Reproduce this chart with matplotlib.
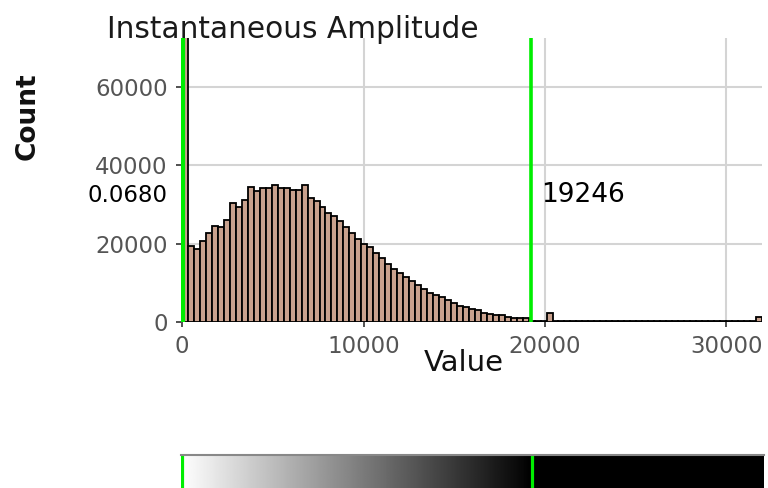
import numpy as np
import matplotlib
matplotlib.use("Agg")
import matplotlib.pyplot as plt
from matplotlib.colors import Normalize

plt.rcParams['font.family'] = ['DejaVu Sans']

# histogram data
x_min, x_max = 0.0, 31940.0
n_bins = 97
counts = [
    120000, 19500, 18500, 20600, 22600, 24600, 24100, 26100, 30300, 29200,
    31200, 34300, 33300, 34200, 34200, 34900, 34200, 34200, 33700, 33700,
    34900, 31700, 30800, 29200, 27700, 27100, 25700, 24100, 22600, 21100,
    20000, 19100, 17500, 16200, 14900, 13500, 12500, 11400, 10400, 9400,
    8300, 7400, 6800, 6300, 5500, 4800, 4200, 3700, 3200, 3100,
    2300, 2100, 1700, 1700, 1300, 1100, 1000, 900, 300, 300,
    300, 2400, 300, 300, 300, 300, 300, 300, 300, 300,
    300, 300, 300, 300, 300, 300, 300, 300, 300, 300,
    300, 300, 300, 300, 300, 300, 300, 300, 300, 300,
    300, 300, 300, 300, 300, 300, 1400,
]
low_cut = 0.0680
high_cut = 19246
low_label = "0.0680"
high_label = "19246"
x_ticks = [0, 10000, 20000, 30000]
y_ticks = [0, 20000, 40000, 60000]

W, H = 768, 488
fig = plt.figure(figsize=(W / 100, H / 100), dpi=100)

# main histogram axes
ax = fig.add_axes([181 / W, 1 - 322 / H, (762 - 181) / W, (322 - 38) / H])
edges = np.linspace(x_min, x_max, n_bins + 1)
width = edges[1] - edges[0]
ax.bar(edges[:-1], counts, width=width, align='edge', color='#c9a18d',
       edgecolor='black', linewidth=1.3, zorder=2)

green = '#00ee00'
ax.axvline(low_cut + 60, color=green, linewidth=3.0, zorder=4)
ax.axvline(high_cut, color=green, linewidth=2.6, zorder=4)

ax.text(low_cut - 800, 32300, low_label, ha='right', va='center',
        fontsize=16.5, color='black', zorder=5)
ax.text(high_cut + 550, 32300, high_label, ha='left', va='center',
        fontsize=19, color='black', zorder=5)

ax.set_xlim(-60, x_max + 20)
ax.set_ylim(0, 72400)
ax.set_xticks(x_ticks)
ax.set_yticks(y_ticks)
ax.grid(True, color='#d4d4d4', linewidth=1.5)
ax.set_axisbelow(True)
for s in ax.spines.values():
    s.set_visible(False)
ax.tick_params(axis='both', colors='#333333', labelcolor='#555555',
               labelsize=16.5, length=3.5, width=1.2, pad=6)

fig.text(28 / W, 1 - 116 / H, "Count", rotation=90, ha='center', va='center',
         fontsize=19, fontweight='bold', color='#111111')
fig.text(464 / W, 1 - 363 / H, "Value", ha='center', va='center',
         fontsize=21, color='#111111')
fig.text(107 / W, 1 - 38 / H, "Instantaneous Amplitude", ha='left',
         va='baseline', fontsize=21.3, color='#1a1a1a')

# gray ramp bar under the histogram
cax = fig.add_axes([181 / W, 0, (764 - 181) / W, (488 - 455) / H])
ramp = np.linspace(x_min, x_max, 600).reshape(1, -1)
cax.imshow(ramp, aspect='auto', cmap='gray_r',
           norm=Normalize(vmin=0, vmax=high_cut),
           extent=[x_min, x_max, 0, 1])
cax.axvline(low_cut + 60, color=green, linewidth=2.3)
cax.axvline(high_cut, color=green, linewidth=2.3)
cax.set_xlim(x_min, x_max)
cax.set_ylim(0, 1)
cax.set_xticks([])
cax.set_yticks([])
for s in cax.spines.values():
    s.set_visible(False)
cax.spines['top'].set_visible(True)
cax.spines['top'].set_color('#888888')
cax.spines['top'].set_linewidth(1.5)

fig.savefig("out.png", dpi=100)
